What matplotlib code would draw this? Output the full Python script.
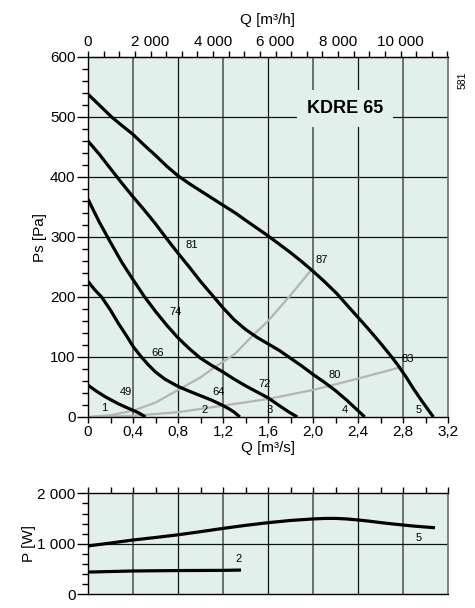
import matplotlib
matplotlib.use("Agg")
import matplotlib.pyplot as plt
from matplotlib.ticker import MultipleLocator, FixedLocator, FuncFormatter

plt.rcParams["font.family"] = ["Liberation Sans", "DejaVu Sans"]

# === fan curves, Q [m3/s] vs Ps [Pa] ===
q1 = [0, 0.075, 0.151, 0.21, 0.27, 0.34, 0.403, 0.46, 0.51]
ps1 = [53, 43, 34, 28, 22, 16, 11, 6, 0]

q2 = [0, 0.06, 0.121, 0.2, 0.27, 0.34, 0.403, 0.47, 0.536, 0.6, 0.684, 0.8, 0.9, 0.98,
      1.1, 1.19, 1.25, 1.3, 1.35]
ps2 = [226, 212, 200, 178, 156, 136, 117, 101, 87, 75, 63, 51, 43, 37, 28, 20, 14, 8, 0]

q3 = [0, 0.1, 0.2, 0.3, 0.4, 0.5, 0.6, 0.7, 0.8, 0.9, 1.0, 1.1, 1.2, 1.3, 1.4, 1.5, 1.6,
      1.7, 1.78, 1.86]
ps3 = [363, 325, 291, 258, 229, 201, 176, 153, 132, 114, 98, 86, 75, 63, 52, 42, 32, 19, 9, 0]

q4 = [0, 0.1, 0.2, 0.3, 0.4, 0.5, 0.6, 0.7, 0.8, 0.9, 1.0, 1.1, 1.2, 1.3, 1.4, 1.5, 1.6,
      1.7, 1.8, 1.9, 2.0, 2.1, 2.2, 2.3, 2.38, 2.46]
ps4 = [460, 438, 414, 390, 367, 345, 322, 297, 273, 250, 226, 204, 182, 162, 146, 133, 122,
       111, 98, 85, 71, 58, 44, 28, 14, 0]

q5 = [0, 0.1, 0.21, 0.3, 0.4, 0.5, 0.6, 0.7, 0.8, 0.9, 1.0, 1.1, 1.2, 1.31, 1.4, 1.5, 1.6,
      1.7, 1.8, 1.9, 2.0, 2.1, 2.21, 2.3, 2.41, 2.5, 2.6, 2.7, 2.76, 2.83, 2.89, 2.97, 3.07]
ps5 = [538, 520, 500, 486, 471, 453, 436, 418, 402, 389, 377, 365, 353, 340, 328, 315, 302,
       288, 274, 259, 243, 226, 206, 187, 164, 145, 123, 100, 85, 66, 48, 26, 0]

curve_q = [q1, q2, q3, q4, q5]
curve_ps = [ps1, ps2, ps3, ps4, ps5]

# grey system curves
sys_hi_q = [0, 0.2, 0.4, 0.6, 0.8, 1.0, 1.11, 1.2, 1.31, 1.45, 1.6, 1.8, 1.98]
sys_hi_ps = [0, 3, 10.5, 24, 45, 66, 81, 92, 106, 133, 160, 203, 244]
sys_lo_q = [0, 0.4, 0.8, 1.2, 1.6, 2.0, 2.4, 2.78]
sys_lo_ps = [0, 2, 8, 19, 30, 45, 64, 83]

# labels on the chart (text, Q, Ps)
curve_labels = ["1", "2", "3", "4", "5"]
curve_label_q = [0.142, 1.04, 1.618, 2.284, 2.942]
curve_label_ps = [15, 12, 11, 11, 11]
eff_labels = ["49", "64", "72", "80", "83", "87", "81", "74", "66"]
eff_q = [0.336, 1.16, 1.573, 2.196, 2.844, 2.08, 0.924, 0.782, 0.618]
eff_ps = [41, 41, 55, 70, 97, 262, 286, 175, 107]

# === power curves, Q [m3/s] vs P [W] ===
pq5 = [0, 0.2, 0.4, 0.6, 0.8, 1.0, 1.2, 1.4, 1.6, 1.8, 2.0, 2.1, 2.2, 2.3, 2.4, 2.5, 2.6,
       2.7, 2.8, 2.9, 3.07]
p5 = [958, 1015, 1075, 1125, 1178, 1240, 1305, 1365, 1418, 1462, 1492, 1502, 1503, 1492,
      1472, 1448, 1420, 1395, 1372, 1350, 1320]
pq2 = [0, 0.4, 0.8, 1.2, 1.36]
p2 = [440, 462, 470, 474, 480]
power_labels = ["5", "2"]
power_label_q = [2.942, 1.342]
power_label_p = [1107, 693]

BG = "#e2f0ec"
GRID_DARK = "#111111"
GRID_GREY = "#6e6e6e"


def fmt_comma(v, pos):
    if abs(v) < 1e-9:
        return "0"
    return f"{v:.1f}".replace(".", ",")


def fmt_thousands(v, pos):
    return f"{int(round(v)):,}".replace(",", " ")


def draw_vgrid(ax):
    for i, xv in enumerate([0.4, 0.8, 1.2, 1.6, 2.0, 2.4, 2.8]):
        grey = i % 2 == 0
        ax.axvline(xv, color=GRID_GREY if grey else GRID_DARK,
                   lw=1.4 if grey else 0.9, zorder=1)


def style_spines(ax):
    for side in ["left", "top", "bottom"]:
        ax.spines[side].set_color("black")
        ax.spines[side].set_linewidth(1.0)
    ax.spines["right"].set_color(GRID_GREY)
    ax.spines["right"].set_linewidth(1.2)


fig = plt.figure(figsize=(4.75, 6.08), dpi=100)

# === main pressure chart ===
ax = fig.add_axes([88 / 475, 1 - 417 / 608, 360 / 475, 360 / 608])
ax.set_facecolor(BG)
ax.set_xlim(0, 3.2)
ax.set_ylim(0, 600)
style_spines(ax)

draw_vgrid(ax)
for yv in [100, 200, 300, 400, 500]:
    ax.axhline(yv, color=GRID_DARK, lw=0.9, zorder=1)

ax.plot(sys_hi_q, sys_hi_ps, color="#b4b4b4", lw=1.6, zorder=2)
ax.plot(sys_lo_q, sys_lo_ps, color="#b4b4b4", lw=1.6, zorder=2)
for cq, cps in zip(curve_q, curve_ps):
    ax.plot(cq, cps, color="black", lw=2.3, solid_capstyle="butt",
            solid_joinstyle="round", zorder=3)

for t, xv, yv in zip(curve_labels, curve_label_q, curve_label_ps):
    ax.text(xv, yv, t, fontsize=8, ha="center", va="center", zorder=4)
for t, xv, yv in zip(eff_labels, eff_q, eff_ps):
    ax.text(xv, yv, t, fontsize=8, ha="center", va="center", zorder=4)

ax.text(2.284, 514, "KDRE 65", fontsize=13, fontweight="bold", ha="center", va="center",
        zorder=5, bbox=dict(facecolor=BG, edgecolor="none", pad=7))

ax.xaxis.set_major_locator(MultipleLocator(0.4))
ax.xaxis.set_minor_locator(MultipleLocator(0.2))
ax.xaxis.set_major_formatter(FuncFormatter(fmt_comma))
ax.yaxis.set_major_locator(MultipleLocator(100))
ax.yaxis.set_minor_locator(MultipleLocator(20))
ax.tick_params(axis="x", which="both", direction="out", length=4, width=1, labelsize=11, pad=2)
ax.tick_params(axis="y", which="major", direction="out", length=8, width=1, labelsize=11, pad=1)
ax.tick_params(axis="y", which="minor", direction="out", length=4, width=1)
ax.set_xlabel("Q [m³/s]", fontsize=11, labelpad=1)
ax.set_ylabel("Ps [Pa]", fontsize=11, labelpad=2)

# top axis in m3/h
top = ax.secondary_xaxis("top", functions=(lambda x: x * 3600, lambda x: x / 3600))
top.xaxis.set_major_locator(FixedLocator([0, 2000, 4000, 6000, 8000, 10000]))
top.xaxis.set_minor_locator(MultipleLocator(500))
top.xaxis.set_major_formatter(FuncFormatter(fmt_thousands))
top.tick_params(which="both", direction="out", length=4, width=1, labelsize=11, pad=2)
top.set_xlabel("Q [m³/h]", fontsize=11, labelpad=8)

fig.text(463 / 475, 1 - 80 / 608, "581", fontsize=7.5, rotation=90, ha="center", va="center")

# === power chart ===
axp = fig.add_axes([88 / 475, 1 - 594.3 / 608, 360 / 475, 101 / 608])
axp.set_facecolor(BG)
axp.set_xlim(0, 3.2)
axp.set_ylim(0, 2000)
style_spines(axp)
draw_vgrid(axp)
axp.axhline(1000, color=GRID_DARK, lw=0.9, zorder=1)

axp.plot(pq5, p5, color="black", lw=2.3, solid_joinstyle="round", zorder=3)
axp.plot(pq2, p2, color="black", lw=2.3, solid_capstyle="butt", zorder=3)
for t, xv, yv in zip(power_labels, power_label_q, power_label_p):
    axp.text(xv, yv, t, fontsize=8, ha="center", va="center", zorder=4)

axp.xaxis.set_major_locator(MultipleLocator(0.2))
axp.xaxis.set_ticks_position("top")
axp.tick_params(axis="x", which="both", direction="out", length=4, width=1, labeltop=False, labelbottom=False)
axp.yaxis.set_major_locator(MultipleLocator(1000))
axp.yaxis.set_minor_locator(MultipleLocator(200))
axp.yaxis.set_major_formatter(FuncFormatter(fmt_thousands))
axp.tick_params(axis="y", which="major", direction="out", length=8, width=1, labelsize=11, pad=1)
axp.tick_params(axis="y", which="minor", direction="out", length=4, width=1)
axp.set_ylabel("P [W]", fontsize=11, labelpad=1)

fig.savefig("out.png", dpi=100)
